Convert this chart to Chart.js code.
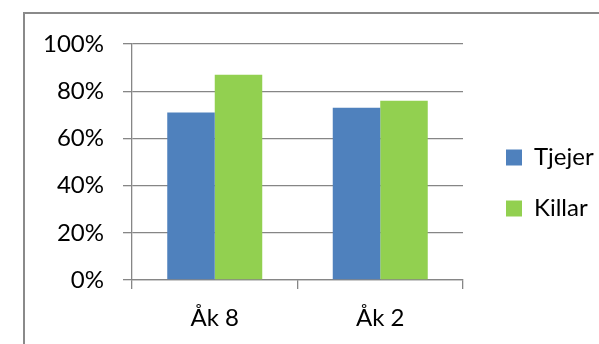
<!DOCTYPE html>
<html>
<head>
<meta charset="utf-8">
<script src="https://cdn.jsdelivr.net/npm/chart.js@4/dist/chart.umd.min.js"></script>
<style>
  html, body { margin: 0; padding: 0; background: #ffffff; }
  #wrap { width: 599px; height: 344px; position: relative; }
</style>
</head>
<body>
<div id="wrap"><canvas id="c" width="599" height="344"></canvas></div>
<script>
// Categories and series (share in percent)
const categories = ['Åk 8', 'Åk 2'];
const tjejer = [71, 73];
const killar = [87, 76];
const seriesNames = ['Tjejer', 'Killar'];
const seriesColors = ['#4F81BD', '#92D050'];
const yTicks = [0, 20, 40, 60, 80, 100];

const gridGray = '#868686';
const fontSpec = { family: 'Lato', size: 24 };

// White background and the frame around the whole chart object
const framePlugin = {
  id: 'frame',
  beforeDraw(chart) {
    const ctx = chart.ctx;
    ctx.save();
    ctx.fillStyle = '#ffffff';
    ctx.fillRect(0, 0, chart.width, chart.height);
    ctx.strokeStyle = '#8a8a8a';
    ctx.lineWidth = 2;
    ctx.strokeRect(24, 13, chart.width + 40, chart.height + 40);
    ctx.restore();
  }
};

// Lift the legend block a little so it sits beside the middle of the plot
const legendNudge = {
  id: 'legendNudge',
  afterLayout(chart) {
    const lg = chart.legend;
    if (!lg) return;
    lg.top -= 11;
    lg.bottom -= 11;
  }
};

new Chart(document.getElementById('c'), {
  type: 'bar',
  data: {
    labels: categories,
    datasets: [
      { label: seriesNames[0], data: tjejer, backgroundColor: seriesColors[0] },
      { label: seriesNames[1], data: killar, backgroundColor: seriesColors[1] }
    ]
  },
  options: {
    responsive: false,
    animation: false,
    devicePixelRatio: 1,
    categoryPercentage: 0.574,
    barPercentage: 1,
    layout: { padding: { top: 44, left: 0, right: 0, bottom: 0 } },
    plugins: {
      tooltip: { enabled: false },
      legend: {
        position: 'right',
        maxWidth: 120,
        labels: {
          boxWidth: 16,
          boxHeight: 16,
          padding: 27,
          color: '#000000',
          font: fontSpec
        }
      }
    },
    scales: {
      x: {
        afterFit(s) { s.height = 64; },
        grid: {
          drawOnChartArea: false,
          drawTicks: true,
          tickLength: 9,
          color: gridGray,
          lineWidth: 1.3
        },
        border: { display: true, color: gridGray, width: 1.3 },
        ticks: { color: '#000000', font: fontSpec, padding: 15 }
      },
      y: {
        min: 0,
        max: 100,
        afterFit(s) { s.width = 132; },
        afterBuildTicks(s) { s.ticks = yTicks.map(v => ({ value: v })); },
        grid: {
          drawTicks: true,
          tickLength: 9,
          color: gridGray,
          lineWidth: 1.3
        },
        border: { display: true, color: gridGray, width: 1.3 },
        ticks: {
          color: '#000000',
          font: fontSpec,
          padding: 19,
          callback: v => v + '%'
        }
      },
      gap: {
        type: 'linear',
        position: 'right',
        display: true,
        afterFit(s) { s.width = 16; },
        grid: { display: false },
        border: { display: false },
        ticks: { display: false }
      }
    }
  },
  plugins: [framePlugin, legendNudge]
});
</script>
</body>
</html>
